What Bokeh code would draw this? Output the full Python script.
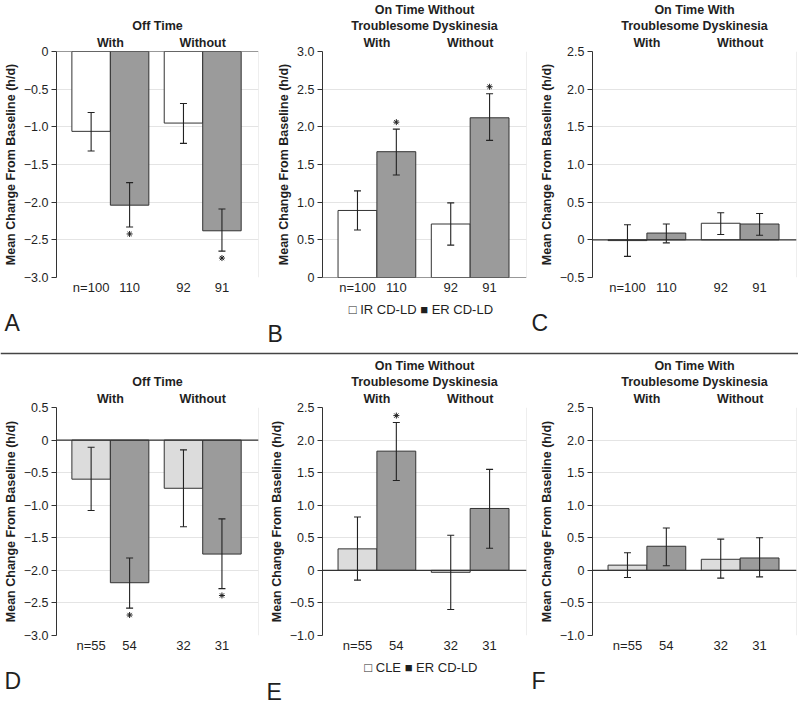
from bokeh.plotting import figure
from bokeh.models import (ColumnDataSource, FixedTicker, Span, Whisker, TeeHead,
                          LinearAxis, Title)
from bokeh.layouts import row, column
from bokeh.embed import file_html
from bokeh.resources import INLINE

TXT = "#1f1f1f"
LINE = "#333333"
WHITE = "#ffffff"
ER_GREY = "#9b9b9b"
CLE_GREY = "#dcdcdc"

# ---------------- data ----------------
GROUPS = ["With", "Without"]
TITLE_OFF = ["Off Time"]
TITLE_ON_NO_TD = ["On Time Without", "Troublesome Dyskinesia"]
TITLE_ON_TD = ["On Time With", "Troublesome Dyskinesia"]
N_TOP = ["n=100", "110", "92", "91"]
N_BOTTOM = ["n=55", "54", "32", "31"]
LEGEND_TOP = ["IR CD-LD", "ER CD-LD"]
LEGEND_BOTTOM = ["CLE", "ER CD-LD"]

TICKS_A = [-3.0, -2.5, -2.0, -1.5, -1.0, -0.5, 0.0]
TICKS_B = [0.0, 0.5, 1.0, 1.5, 2.0, 2.5, 3.0]
TICKS_C = [-0.5, 0.0, 0.5, 1.0, 1.5, 2.0, 2.5]
TICKS_D = [-3.0, -2.5, -2.0, -1.5, -1.0, -0.5, 0.0, 0.5]
TICKS_EF = [-1.0, -0.5, 0.0, 0.5, 1.0, 1.5, 2.0, 2.5]

# Panel A: Off time, IR CD-LD vs ER CD-LD (with / without)
A_ctrl_mean = [-1.06, -0.95]
A_ctrl_lo = [-1.32, -1.22]
A_ctrl_hi = [-0.81, -0.69]
A_er_mean = [-2.04, -2.38]
A_er_lo = [-2.33, -2.65]
A_er_hi = [-1.74, -2.09]
A_sig = [True, True]

# Panel B: On time without troublesome dyskinesia
B_ctrl_mean = [0.89, 0.71]
B_ctrl_lo = [0.63, 0.43]
B_ctrl_hi = [1.15, 0.99]
B_er_mean = [1.67, 2.12]
B_er_lo = [1.36, 1.82]
B_er_hi = [1.97, 2.44]
B_sig = [True, True]

# Panel C: On time with troublesome dyskinesia
C_ctrl_mean = [-0.01, 0.22]
C_ctrl_lo = [-0.22, 0.07]
C_ctrl_hi = [0.20, 0.36]
C_er_mean = [0.09, 0.21]
C_er_lo = [-0.04, 0.06]
C_er_hi = [0.21, 0.35]
C_sig = [False, False]

# Panel D: Off time, CLE vs ER CD-LD
D_ctrl_mean = [-0.60, -0.74]
D_ctrl_lo = [-1.08, -1.33]
D_ctrl_hi = [-0.11, -0.15]
D_er_mean = [-2.19, -1.75]
D_er_lo = [-2.58, -2.28]
D_er_hi = [-1.81, -1.21]
D_sig = [True, True]

# Panel E
E_ctrl_mean = [0.33, -0.03]
E_ctrl_lo = [-0.15, -0.60]
E_ctrl_hi = [0.82, 0.54]
E_er_mean = [1.83, 0.95]
E_er_lo = [1.38, 0.34]
E_er_hi = [2.27, 1.55]
E_sig = [True, False]

# Panel F
F_ctrl_mean = [0.08, 0.17]
F_ctrl_lo = [-0.11, -0.12]
F_ctrl_hi = [0.27, 0.48]
F_er_mean = [0.37, 0.19]
F_er_lo = [0.07, -0.10]
F_er_hi = [0.65, 0.50]
F_sig = [False, False]

# ---------------- layout ----------------
BAR_W = 1.0
GROUP_GAP = 0.4
LEAD = 0.4
XMAX = 5.25
group_start = [LEAD + g * (2 * BAR_W + GROUP_GAP) for g in range(2)]
ctrl_x = [round(s + 0.5, 3) for s in group_start]
er_x = [round(s + 1.5, 3) for s in group_start]
group_mid = [round(s + 1.0, 3) for s in group_start]

FRAME_W = 204
LEGEND_STANDOFF = 20


def fmt(v):
    if v == 0:
        return "0"
    return ("\u2212" if v < 0 else "") + f"{abs(v):.1f}"


def panel(title_lines, ctrl_color, cm, clo, chi, em, elo, ehi, sig,
          n_labels, ticks, letter, L, R, T, FH, B, letter_dx, legend=None):
    p = figure(width=L + FRAME_W + R, height=T + FH + B,
               x_range=(0, XMAX), y_range=(ticks[0], ticks[-1]),
               toolbar_location=None, output_backend="svg", title=None,
               min_border_left=L, min_border_right=R,
               min_border_top=T, min_border_bottom=B)
    p.outline_line_color = None

    # grid
    p.xgrid.grid_line_color = None
    p.ygrid.ticker = FixedTicker(ticks=ticks)
    p.ygrid.grid_line_color = "#e4e4e4"

    # y axis
    ya = p.yaxis[0]
    ya.ticker = FixedTicker(ticks=ticks)
    ya.major_label_overrides = {t: fmt(t) for t in ticks}
    ya.axis_label = "Mean Change From Baseline (h/d)"
    ya.axis_label_text_font_style = "bold"
    ya.axis_label_text_font_size = "12.5px"
    ya.axis_label_text_color = TXT
    ya.axis_label_standoff = 3
    ya.major_label_text_font_size = "12.5px"
    ya.major_label_text_color = TXT
    ya.major_label_standoff = 3
    ya.axis_line_color = LINE
    ya.major_tick_line_color = LINE
    ya.major_tick_out = 5
    ya.major_tick_in = 0
    ya.minor_tick_out = 0
    ya.minor_tick_in = 0
    ya.minor_tick_line_color = None

    # x axis with n labels
    xs = [ctrl_x[0], er_x[0], ctrl_x[1], er_x[1]]
    xa = p.xaxis[0]
    xa.ticker = FixedTicker(ticks=xs)
    xa.major_label_overrides = {x: lab for x, lab in zip(xs, n_labels)}
    xa.major_label_text_font_size = "13px"
    xa.major_label_text_color = TXT
    xa.major_label_standoff = 2
    xa.axis_line_color = None
    xa.major_tick_line_color = None
    xa.minor_tick_line_color = None
    xa.major_tick_out = 0
    xa.major_tick_in = 0
    xa.minor_tick_out = 0
    xa.minor_tick_in = 0

    # group labels on a top axis
    ta = LinearAxis(ticker=FixedTicker(ticks=group_mid),
                    major_label_overrides={g: lab for g, lab in zip(group_mid, GROUPS)},
                    axis_line_color=None, major_tick_line_color=None,
                    minor_tick_line_color=None, major_tick_out=0, major_tick_in=0,
                    minor_tick_out=0, minor_tick_in=0, major_label_standoff=2,
                    major_label_text_font_style="bold",
                    major_label_text_font_size="12.5px",
                    major_label_text_color=TXT)
    p.add_layout(ta, "above")
    for line in reversed(title_lines):
        p.add_layout(Title(text=line, align="center", text_font_style="bold",
                           text_font_size="12.5px", text_color=TXT, standoff=0,
                           offset=0), "above")

    # right light border
    p.add_layout(Span(location=XMAX, dimension="height", line_color="#dedede",
                      line_width=1))

    # bars
    p.vbar(x=ctrl_x, top=cm, bottom=0, width=BAR_W, fill_color=ctrl_color,
           line_color=LINE, line_width=1)
    p.vbar(x=er_x, top=em, bottom=0, width=BAR_W, fill_color=ER_GREY,
           line_color=LINE, line_width=1)

    # zero line
    p.add_layout(Span(location=0, dimension="width", line_color=LINE, line_width=1.2))

    # error bars (drawn above the bars)
    src = ColumnDataSource(dict(x=ctrl_x + er_x, lo=clo + elo, hi=chi + ehi))
    p.add_layout(Whisker(source=src, base="x", lower="lo", upper="hi",
                         level="annotation",
                         line_color="#222222", line_width=1.1,
                         upper_head=TeeHead(size=7, line_color="#222222", line_width=1.1),
                         lower_head=TeeHead(size=7, line_color="#222222", line_width=1.1)))

    # significance asterisks (7 px beyond the error bar end)
    units_per_px = (ticks[-1] - ticks[0]) / FH
    ax, ay = [], []
    for i in range(2):
        if sig[i]:
            ax.append(er_x[i])
            if em[i] < 0:
                ay.append(elo[i] - 7 * units_per_px)
            else:
                ay.append(ehi[i] + 7 * units_per_px)
    if ax:
        p.scatter(x=ax, y=ay, marker="asterisk", size=6, line_color=TXT,
                  line_width=1)

    if legend is not None:
        p.add_layout(Title(text="\u25a1 " + legend[0] + "   \u25a0 " + legend[1],
                           align="center", standoff=4, text_font_style="normal",
                           text_font_size="13px", text_color=TXT), "below")

    # panel letter
    p.add_layout(Title(text=letter, align="left", offset=letter_dx,
                       standoff=0 if legend is not None else LEGEND_STANDOFF,
                       text_font_style="normal", text_font_size="23px",
                       text_color=TXT), "below")
    return p


TOP = dict(T=50, FH=228, B=68)
BOT = dict(T=50, FH=232, B=66)

pA = panel(TITLE_OFF, WHITE, A_ctrl_mean, A_ctrl_lo, A_ctrl_hi,
           A_er_mean, A_er_lo, A_er_hi, A_sig, N_TOP, TICKS_A, "A",
           L=54, R=6, letter_dx=-52, **TOP)
pB = panel(TITLE_ON_NO_TD, WHITE, B_ctrl_mean, B_ctrl_lo, B_ctrl_hi,
           B_er_mean, B_er_lo, B_er_hi, B_sig, N_TOP, TICKS_B, "B",
           L=58, R=2, letter_dx=-55, legend=LEGEND_TOP, **TOP)
pC = panel(TITLE_ON_TD, WHITE, C_ctrl_mean, C_ctrl_lo, C_ctrl_hi,
           C_er_mean, C_er_lo, C_er_hi, C_sig, N_TOP, TICKS_C, "C",
           L=64, R=2, letter_dx=-61, **TOP)
pD = panel(TITLE_OFF, CLE_GREY, D_ctrl_mean, D_ctrl_lo, D_ctrl_hi,
           D_er_mean, D_er_lo, D_er_hi, D_sig, N_BOTTOM, TICKS_D, "D",
           L=54, R=6, letter_dx=-52, **BOT)
pE = panel(TITLE_ON_NO_TD, CLE_GREY, E_ctrl_mean, E_ctrl_lo, E_ctrl_hi,
           E_er_mean, E_er_lo, E_er_hi, E_sig, N_BOTTOM, TICKS_EF, "E",
           L=58, R=2, letter_dx=-56, legend=LEGEND_BOTTOM, **BOT)
pF = panel(TITLE_ON_TD, CLE_GREY, F_ctrl_mean, F_ctrl_lo, F_ctrl_hi,
           F_er_mean, F_er_lo, F_er_hi, F_sig, N_BOTTOM, TICKS_EF, "F",
           L=64, R=2, letter_dx=-61, **BOT)

top_w = pA.width + pB.width + pC.width
sep = figure(width=top_w, height=10, x_range=(0, 1), y_range=(0, 1),
             x_axis_type=None, y_axis_type=None, toolbar_location=None,
             output_backend="svg", min_border=0)
sep.outline_line_color = None
sep.xgrid.visible = False
sep.ygrid.visible = False
sep.add_layout(Span(location=0.5, dimension="width", line_color="#444444", line_width=1.5))

layout = column(row(pA, pB, pC), sep, row(pD, pE, pF))

open("out.html", "w").write(file_html(layout, INLINE))
